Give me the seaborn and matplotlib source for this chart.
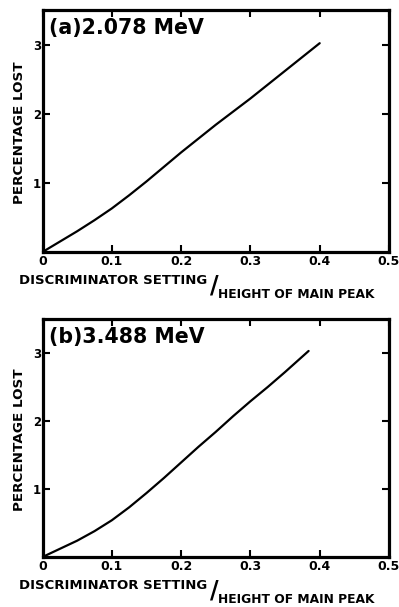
import matplotlib
matplotlib.use("Agg")
import matplotlib.pyplot as plt
import seaborn as sns
import pandas as pd

# data
x_a = [0.0, 0.025, 0.05, 0.075, 0.10, 0.125, 0.15, 0.175, 0.20, 0.225,
       0.25, 0.275, 0.30, 0.325, 0.35, 0.375, 0.40]
y_a = [0.0, 0.15, 0.30, 0.46, 0.63, 0.82, 1.02, 1.23, 1.44, 1.64,
       1.84, 2.03, 2.22, 2.42, 2.62, 2.82, 3.02]
x_b = [0.0, 0.025, 0.05, 0.075, 0.10, 0.125, 0.15, 0.175, 0.20, 0.225,
       0.25, 0.275, 0.30, 0.325, 0.35, 0.384]
y_b = [0.0, 0.12, 0.24, 0.38, 0.54, 0.73, 0.94, 1.16, 1.39, 1.62,
       1.84, 2.07, 2.29, 2.50, 2.72, 3.03]
titles = ["(a)2.078 MeV", "(b)3.488 MeV"]
xticks = [0, 0.1, 0.2, 0.3, 0.4, 0.5]
xticklabels = ["0", "0.1", "0.2", "0.3", "0.4", "0.5"]
yticks = [1, 2, 3]
yticklabels = ["1", "2", "3"]
ylabel = "PERCENTAGE LOST"
xlabel1 = "DISCRIMINATOR SETTING"
xlabel2 = "HEIGHT OF MAIN PEAK"

sns.set_theme(style="ticks")
plt.rcParams['font.family'] = ['DejaVu Sans']
WEIGHT = "bold"

W, H = 399, 607
fig = plt.figure(figsize=(W / 100, H / 100), dpi=100)

def fx(px):
    return px / W

def fy(py):
    return 1 - py / H

panels = [
    dict(x=x_a, y=y_a, top=10, bottom=252, title=titles[0]),
    dict(x=x_b, y=y_b, top=319, bottom=557, title=titles[1]),
]

for p in panels:
    left, right = 42.5, 389
    ax = fig.add_axes([fx(left), fy(p["bottom"]), (right - left) / W,
                       (p["bottom"] - p["top"]) / H])
    df = pd.DataFrame({"x": p["x"], "y": p["y"]})
    sns.lineplot(data=df, x="x", y="y", ax=ax, color="black", linewidth=1.6)
    ax.set_xlim(0, 0.5)
    ax.set_ylim(0, 3.5)
    ax.set_xticks(xticks)
    ax.set_xticklabels(xticklabels, fontsize=9, fontweight=WEIGHT)
    ax.set_yticks(yticks)
    ax.set_yticklabels(yticklabels, fontsize=8.5, fontweight=WEIGHT)
    ax.tick_params(direction="in", length=5, width=1.5, top=True, right=True,
                   colors="black")
    ax.tick_params(axis="x", pad=2)
    ax.tick_params(axis="y", pad=1)
    for s in ax.spines.values():
        s.set_linewidth(2.3)
        s.set_color("black")
        s.set_visible(True)
    ax.set_xlabel("")
    ax.set_ylabel("")
    ax.text(0.018, 0.965, p["title"], transform=ax.transAxes, fontsize=14.8,
            fontweight=WEIGHT, va="top", ha="left", color="black")
    # y label
    fig.text(fx(20), fy((p["top"] + p["bottom"]) / 2 + 2), ylabel, rotation=90,
             fontsize=9.7, fontweight=WEIGHT, ha="center", va="center",
             color="black")
    # x label in two parts with big slash
    b = p["bottom"]
    fig.text(fx(19), fy(b + 32), xlabel1, fontsize=9.5, fontweight=WEIGHT,
             ha="left", va="baseline", color="black")
    fig.text(fx(214), fy(b + 34), "/", fontsize=17, fontweight=WEIGHT,
             ha="center", va="center", color="black")
    fig.text(fx(218), fy(b + 46), xlabel2, fontsize=8.8, fontweight=WEIGHT,
             ha="left", va="baseline", color="black")

fig.savefig("out.png", dpi=100)
